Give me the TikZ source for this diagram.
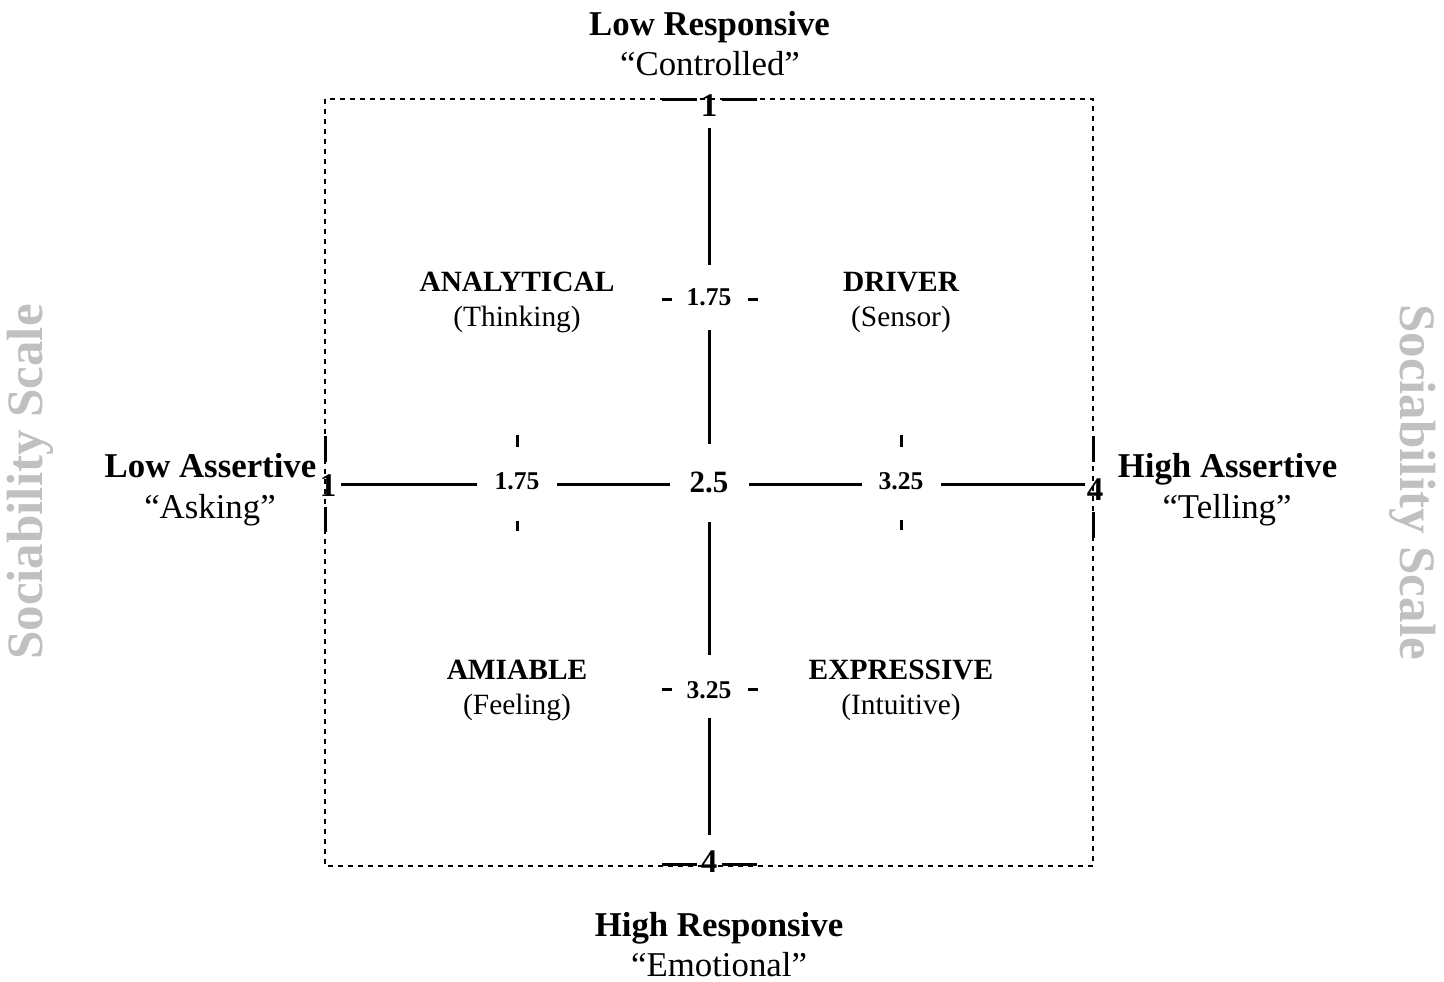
\documentclass[tikz,border=0pt]{standalone}
\usepackage{fontspec}
\setmainfont{Liberation Serif}
\definecolor{scalegray}{RGB}{192,192,192}
\begin{document}
\begin{tikzpicture}[x=0.5pt,y=-0.5pt,
  axis/.style={line width=1.5pt},
  tickmark/.style={line width=1.5pt},
  frame/.style={line width=0.65pt,dash pattern=on 2.5pt off 2.5pt},
  head/.style={font=\fontsize{17.4}{20}\selectfont\bfseries,anchor=base,inner sep=0pt},
  sub/.style={font=\fontsize{17.4}{20}\selectfont,anchor=base,inner sep=0pt},
  quad/.style={font=\fontsize{14.7}{17}\selectfont\bfseries,anchor=base,inner sep=0pt},
  quadsub/.style={font=\fontsize{14.7}{17}\selectfont,anchor=base,inner sep=0pt},
  endnum/.style={font=\fontsize{16.5}{18}\selectfont\bfseries,anchor=base,inner sep=0pt},
  midnum/.style={font=\fontsize{15.5}{17}\selectfont\bfseries,anchor=base,inner sep=0pt},
  smallnum/.style={font=\fontsize{12.8}{15}\selectfont\bfseries,anchor=base,inner sep=0pt},
  scale label/.style={font=\fontsize{25.5}{28}\selectfont\bfseries,text=scalegray,inner sep=0pt}]
\useasboundingbox (0,0) rectangle (1444,981);

% dashed frame
\draw[frame] (325,99) rectangle (1093,866);

% end ticks
\draw[tickmark] (662,99) -- (697,99) (722,99) -- (757,99);
\draw[tickmark] (662,864) -- (697,864) (722,864) -- (757,864);
\draw[tickmark] (325,436) -- (325,462) (325,507) -- (325,532);
\draw[tickmark] (1093,436) -- (1093,462) (1093,512) -- (1093,538);

% mid ticks on horizontal axis
\draw[tickmark] (517,435) -- (517,447) (517,521) -- (517,531);
\draw[tickmark] (901,435) -- (901,447) (901,520) -- (901,530);
% mid ticks on vertical axis
\draw[tickmark] (662,299) -- (672,299) (748,299) -- (758,299);
\draw[tickmark] (662,689) -- (672,689) (748,689) -- (758,689);

% vertical axis
\draw[axis] (709,128) -- (709,265) (709,330) -- (709,444)
            (709,522) -- (709,655) (709,718) -- (709,835);
% horizontal axis
\draw[axis] (341,484) -- (477,484) (557,484) -- (670,484)
            (749,484) -- (862,484) (941,484) -- (1085,484);

% axis numbers
\node[endnum] (t1) at (709,116) {1};
\node[endnum] (b4) at (709,872) {4};
\node[endnum] (l1) at (328,496) {1};
\node[endnum] (r4) at (1095,500) {4};
\node[midnum] (c25) at (709,492) {2.5};
\node[smallnum] (h175) at (517,489) {1.75};
\node[smallnum] (h325) at (901,489) {3.25};
\node[smallnum] (v175) at (709,305) {1.75};
\node[smallnum] (v325) at (709,698) {3.25};

% outer labels
\node[head] (lr) at (709.5,35) {Low Responsive};
\node[sub] (lrs) at (710,75) {“Controlled”};
\node[head] (hr) at (719,936) {High Responsive};
\node[sub] (hrs) at (719,976) {“Emotional”};
\node[head] (la) at (210.5,477) {Low Assertive};
\node[sub] (las) at (210,518) {“Asking”};
\node[head] (ha) at (1227.5,477) {High Assertive};
\node[sub] (has) at (1227,518) {“Telling”};

% quadrant labels
\node[quad] (an) at (517,291) {ANALYTICAL};
\node[quadsub] (ans) at (517,326) {(Thinking)};
\node[quad] (dr) at (901,291) {DRIVER};
\node[quadsub] (drs) at (901,326) {(Sensor)};
\node[quad] (am) at (517,679) {AMIABLE};
\node[quadsub] (ams) at (517,714) {(Feeling)};
\node[quad] (ex) at (901,679) {EXPRESSIVE};
\node[quadsub] (exs) at (901,714) {(Intuitive)};

% side scales
\node[scale label,rotate=90] (sl) at (30,482) {Sociability Scale};
\node[scale label,rotate=-90] (sr) at (1413,482) {Sociability Scale};
\end{tikzpicture}
\end{document}
